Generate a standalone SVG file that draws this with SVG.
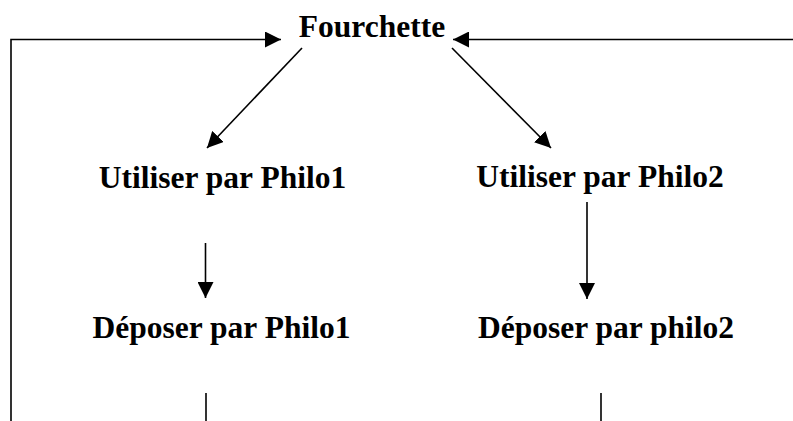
<svg xmlns="http://www.w3.org/2000/svg" width="793" height="421" viewBox="0 0 793 421">
<style>
.t{font-family:"Liberation Serif","Times New Roman",serif;font-weight:bold;font-size:31.5px;fill:#000;text-anchor:middle}
.c{stroke:#000;stroke-width:1.6;fill:none}
</style>
<defs>
<marker id="ah" markerUnits="userSpaceOnUse" markerWidth="16" markerHeight="16" viewBox="0 0 16 16" refX="16" refY="8" orient="auto">
<path d="M0,0 L16,8 L0,16 Z" fill="#000"/>
</marker>
</defs>
<rect width="793" height="421" fill="#fff"/>
<g id="connectors">
<path class="c" d="M11,421 L11,39.5 L281,39.5" marker-end="url(#ah)"/>
<path class="c" d="M793,39.5 L453,39.5" marker-end="url(#ah)"/>
<path class="c" d="M302,48 L207,148" marker-end="url(#ah)"/>
<path class="c" d="M452,48 L551,148" marker-end="url(#ah)"/>
<path class="c" d="M205.5,243 L205.5,298" marker-end="url(#ah)"/>
<path class="c" d="M587,202 L587,299" marker-end="url(#ah)"/>
<path class="c" d="M206,393 L206,421"/>
<path class="c" d="M601,393 L601,421"/>
</g>
<g id="fourchette"><text class="t" x="372" y="37">Fourchette</text></g>
<g id="utiliser1"><text class="t" x="222.5" y="188">Utiliser par Philo1</text></g>
<g id="utiliser2"><text class="t" x="600" y="187">Utiliser par Philo2</text></g>
<g id="deposer1"><text class="t" x="221.5" y="338">Déposer par Philo1</text></g>
<g id="deposer2"><text class="t" x="606" y="338">Déposer par philo2</text></g>
</svg>
